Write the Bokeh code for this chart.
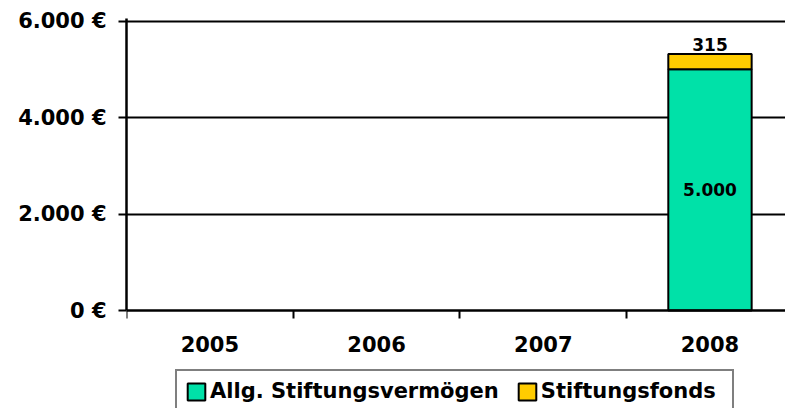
from bokeh.plotting import figure
from bokeh.models import Range1d, FixedTicker, ColumnDataSource, Legend, LegendItem
from bokeh.embed import file_html
from bokeh.resources import INLINE
from bokeh.core.properties import value

# ---- data ----
years = [2005, 2006, 2007, 2008]
allg = [0, 0, 0, 5000]
fonds = [0, 0, 0, 315]
series_names = ["Allg. Stiftungsvermögen", "Stiftungsfonds"]
y_ticks = [0, 2000, 4000, 6000]
y_tick_labels = ["0 €", "2.000 €", "4.000 €", "6.000 €"]

FONT = "DejaVu Sans"
GREEN = "#00E1A8"
YELLOW = "#FFCC00"


def de(v):
    return f"{v:,}".replace(",", ".")


# only years that carry a value get a bar
rows = [i for i in range(len(years)) if allg[i] + fonds[i] > 0]
src = ColumnDataSource(dict(year=[years[i] for i in rows],
                            allg=[allg[i] for i in rows],
                            fonds=[fonds[i] for i in rows]))

p = figure(width=785, height=408, output_backend="svg", toolbar_location=None,
           x_range=Range1d(2004.5, 2008.453), y_range=Range1d(-2031, 6052),
           min_border_left=126, min_border_right=0, min_border_top=18,
           min_border_bottom=0)
p.outline_line_color = None
p.background_fill_color = "white"

rs = p.vbar_stack(["allg", "fonds"], x="year", width=0.5, source=src,
                  fill_color=[GREEN, YELLOW], line_color="black", line_width=2)

# value labels
lab_x, lab_y, lab_t = [], [], []
for yr, a in zip(years, allg):
    if a > 0:
        lab_x.append(yr); lab_y.append(a / 2); lab_t.append(de(a))
p.text(x=lab_x, y=lab_y, text=lab_t, text_font=value(FONT), text_font_style="bold",
       text_font_size="17px", text_align="center", text_baseline="middle", text_color="black")

top_x, top_y, top_t = [], [], []
for yr, a, f in zip(years, allg, fonds):
    if f > 0:
        top_x.append(yr); top_y.append(a + f); top_t.append(de(f))
p.text(x=top_x, y=top_y, text=top_t, text_font=value(FONT), text_font_style="bold",
       text_font_size="17px", text_align="center", text_baseline="bottom",
       y_offset=-3, text_color="black")

# axes
p.yaxis.ticker = FixedTicker(ticks=y_ticks)
p.yaxis.bounds = (0, 6052)
p.yaxis.major_label_overrides = dict(zip(y_ticks, y_tick_labels))
p.yaxis.axis_line_width = 2.5
p.yaxis.axis_line_color = "black"
p.yaxis.major_tick_out = 8
p.yaxis.major_tick_in = 0
p.yaxis.major_tick_line_width = 2
p.yaxis.major_tick_line_color = "black"
p.yaxis.minor_tick_line_color = None
p.yaxis.major_label_standoff = 12
p.yaxis.major_label_text_font = FONT
p.yaxis.major_label_text_font_style = "bold"
p.yaxis.major_label_text_font_size = "21px"
p.yaxis.major_label_text_color = "black"

p.xaxis.fixed_location = 0
p.xaxis.ticker = FixedTicker(ticks=years, minor_ticks=[y - 0.5 for y in years])
p.xaxis.axis_line_width = 2.5
p.xaxis.axis_line_color = "black"
p.xaxis.major_tick_line_color = None
p.xaxis.major_tick_out = 8
p.xaxis.major_tick_in = 0
p.xaxis.minor_tick_out = 8
p.xaxis.minor_tick_in = 0
p.xaxis.minor_tick_line_width = 2
p.xaxis.minor_tick_line_color = "black"
p.xaxis.major_label_standoff = 17
p.xaxis.major_label_text_font = FONT
p.xaxis.major_label_text_font_style = "bold"
p.xaxis.major_label_text_font_size = "21px"
p.xaxis.major_label_text_color = "black"

p.xgrid.visible = False
p.ygrid.ticker = FixedTicker(ticks=y_ticks[1:])
p.ygrid.grid_line_color = "black"
p.ygrid.grid_line_width = 2

legend = Legend(items=[LegendItem(label=n, renderers=[r]) for n, r in zip(series_names, rs)],
                orientation="horizontal", location=(49, -5),
                padding=8, spacing=17, margin=0,
                glyph_width=22, glyph_height=21, label_standoff=3, label_width=183,
                border_line_color="black", border_line_width=2,
                background_fill_color="white", background_fill_alpha=1,
                label_text_font=FONT, label_text_font_style="bold",
                label_text_font_size="21px", label_text_color="black")
p.add_layout(legend, "center")

open("out.html", "w").write(file_html(p, INLINE))
